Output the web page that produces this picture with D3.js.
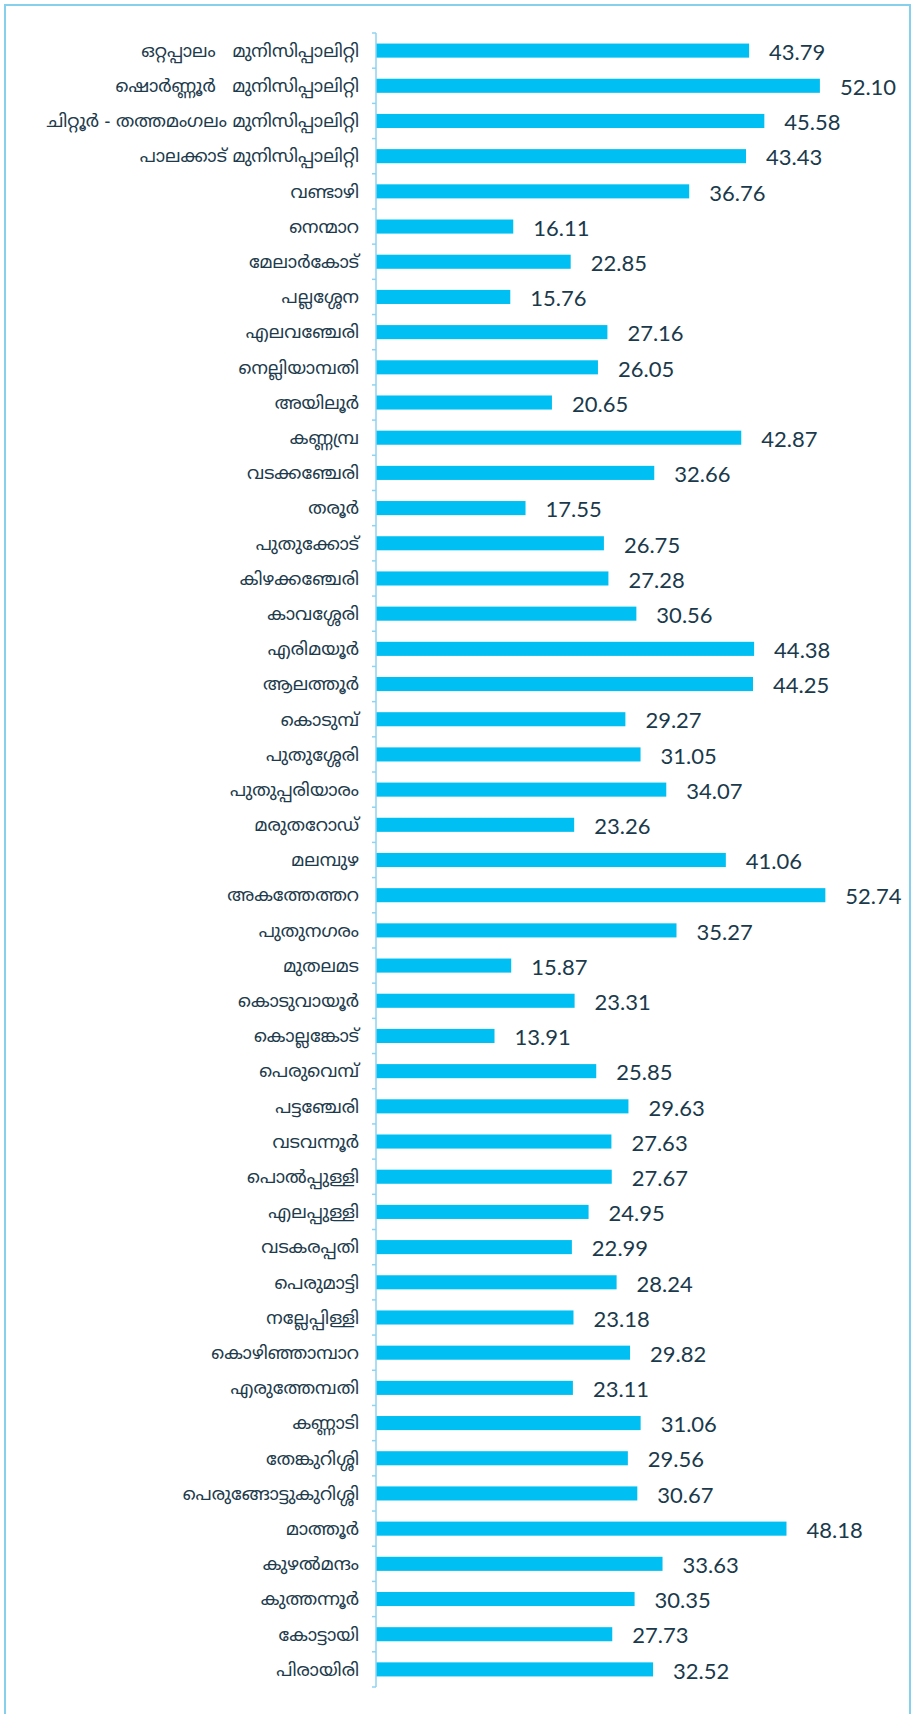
<!DOCTYPE html>
<html>
<head>
<meta charset="utf-8">
<script src="https://cdn.jsdelivr.net/npm/d3@7"></script>
<style>
  body { margin: 0; background: #fff; }
</style>
</head>
<body>
<div id="chart"></div>
<script>
// local bodies (top to bottom) and their values
const places = [
  "ഒറ്റപ്പാലം   മുനിസിപ്പാലിറ്റി", "ഷൊർണ്ണൂർ   മുനിസിപ്പാലിറ്റി", "ചിറ്റൂർ - തത്തമംഗലം മുനിസിപ്പാലിറ്റി",
  "പാലക്കാട് മുനിസിപ്പാലിറ്റി", "വണ്ടാഴി", "നെന്മാറ", "മേലാർകോട്", "പല്ലശ്ശേന", "എലവഞ്ചേരി",
  "നെല്ലിയാമ്പതി", "അയിലൂർ", "കണ്ണമ്പ്ര", "വടക്കഞ്ചേരി", "തരൂർ", "പുതുക്കോട്", "കിഴക്കഞ്ചേരി",
  "കാവശ്ശേരി", "എരിമയൂർ", "ആലത്തൂർ", "കൊടുമ്പ്", "പുതുശ്ശേരി", "പുതുപ്പരിയാരം", "മരുതറോഡ്",
  "മലമ്പുഴ", "അകത്തേത്തറ", "പുതുനഗരം", "മുതലമട", "കൊടുവായൂർ", "കൊല്ലങ്കോട്", "പെരുവെമ്പ്",
  "പട്ടഞ്ചേരി", "വടവന്നൂർ", "പൊൽപ്പുള്ളി", "എലപ്പുള്ളി", "വടകരപ്പതി", "പെരുമാട്ടി", "നല്ലേപ്പിള്ളി",
  "കൊഴിഞ്ഞാമ്പാറ", "എരുത്തേമ്പതി", "കണ്ണാടി", "തേങ്കുറിശ്ശി", "പെരുങ്ങോട്ടുകുറിശ്ശി", "മാത്തൂർ",
  "കുഴൽമന്ദം", "കുത്തന്നൂർ", "കോട്ടായി", "പിരായിരി"
];
const values = [
  43.79, 52.10, 45.58, 43.43, 36.76, 16.11, 22.85, 15.76, 27.16,
  26.05, 20.65, 42.87, 32.66, 17.55, 26.75, 27.28,
  30.56, 44.38, 44.25, 29.27, 31.05, 34.07, 23.26,
  41.06, 52.74, 35.27, 15.87, 23.31, 13.91, 25.85,
  29.63, 27.63, 27.67, 24.95, 22.99, 28.24, 23.18,
  29.82, 23.11, 31.06, 29.56, 30.67, 48.18,
  33.63, 30.35, 27.73, 32.52
];

const data = places.map((p, i) => ({place: p, value: values[i]}));

const W = 914, H = 1714;
const axisX = 376, plotTop = 33, plotBottom = 1687;

const svg = d3.select("#chart").append("svg")
  .attr("width", W)
  .attr("height", H);

// outer frame
svg.append("rect")
  .attr("x", 5).attr("y", 5)
  .attr("width", 905).attr("height", 1730)
  .attr("fill", "none")
  .attr("stroke", "#86d0ee")
  .attr("stroke-width", 2);

const x = d3.scaleLinear()
  .domain([0, 52.74])
  .range([axisX, axisX + 52.74 * 8.52]);

const y = d3.scaleBand()
  .domain(places)
  .range([plotTop, plotBottom])
  .paddingInner(0.6)
  .paddingOuter(0.3);

// bars
svg.selectAll("rect.bar")
  .data(data)
  .enter()
  .append("rect")
  .attr("class", "bar")
  .attr("x", x(0))
  .attr("y", d => y(d.place))
  .attr("width", d => x(d.value) - x(0))
  .attr("height", y.bandwidth())
  .attr("fill", "#00bff2");

// y axis with ticks on band boundaries
const ax = svg.append("g");
ax.append("line")
  .attr("x1", axisX).attr("x2", axisX)
  .attr("y1", plotTop).attr("y2", plotBottom)
  .attr("stroke", "#8fd3f0")
  .attr("stroke-width", 1.5);
const step = y.step();
ax.selectAll("line.tick")
  .data(d3.range(places.length + 1))
  .enter()
  .append("line")
  .attr("class", "tick")
  .attr("x1", axisX - 4).attr("x2", axisX)
  .attr("y1", i => plotTop + i * step)
  .attr("y2", i => plotTop + i * step)
  .attr("stroke", "#8fd3f0")
  .attr("stroke-width", 1.5);

// category labels
svg.selectAll("text.lab")
  .data(data)
  .enter()
  .append("text")
  .attr("class", "lab")
  .attr("x", axisX - 17)
  .attr("y", d => y(d.place) + y.bandwidth() / 2)
  .attr("dy", "0.35em")
  .attr("text-anchor", "end")
  .attr("font-family", "'Noto Sans Malayalam', 'Noto Sans', sans-serif")
  .attr("font-size", "18px")
  .attr("fill", "#1d3b4c")
  .style("white-space", "pre")
  .text(d => d.place);

// value labels
svg.selectAll("text.val")
  .data(data)
  .enter()
  .append("text")
  .attr("class", "val")
  .attr("x", d => x(d.value) + 20)
  .attr("y", d => y(d.place) + y.bandwidth() / 2)
  .attr("dy", "0.42em")
  .attr("font-family", "Lato, 'Open Sans', sans-serif")
  .attr("font-size", "22px")
  .attr("fill", "#1a3a4c")
  .text(d => d.value.toFixed(2));
</script>
</body>
</html>
